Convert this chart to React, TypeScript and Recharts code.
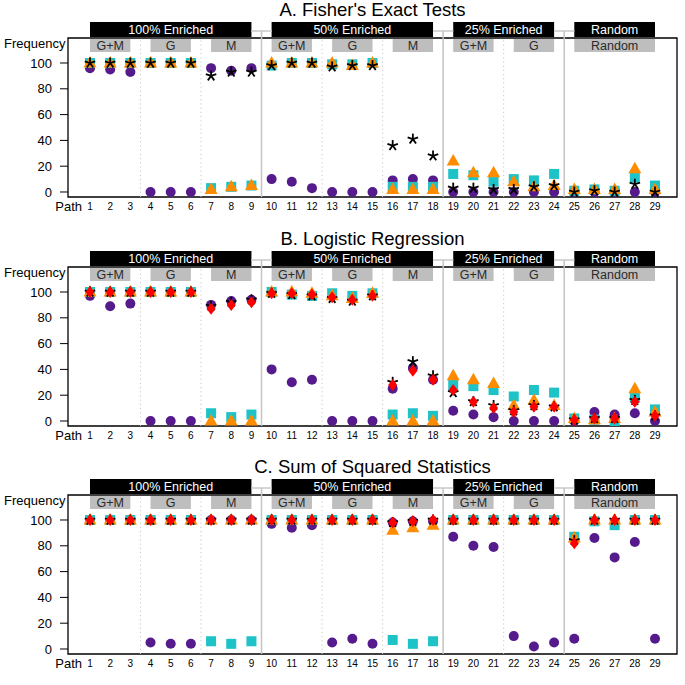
import { ScatterChart, Scatter, XAxis, YAxis, ReferenceArea, ReferenceLine } from "recharts";

const FONT = '"Liberation Sans", Arial, Helvetica, sans-serif';

const paths = [1, 2, 3, 4, 5, 6, 7, 8, 9, 10, 11, 12, 13, 14, 15, 16, 17, 18, 19, 20, 21, 22, 23, 24, 25, 26, 27, 28, 29];
const yTicks = [0, 20, 40, 60, 80, 100];

// header strips
const enrichLabels = ["100% Enriched", "50% Enriched", "25% Enriched", "Random"];
const enrichFirst = [1, 10, 19, 25];
const enrichLast = [9, 18, 24, 29];
const groupLabels = ["G+M", "G", "M", "G+M", "G", "M", "G+M", "G", "Random"];
const groupFirst = [1, 4, 7, 10, 13, 16, 19, 22, 25];
const groupLast = [3, 6, 9, 12, 15, 18, 21, 24, 29];

// A. Fisher's exact tests
const fisherCircle = [96, 95, 93, 0, 0, 0, 96, 94, 96, 10, 8, 3, 0, 0, 0, 9, 10, 9, 0, 0, 0, 0, 0, 0, 0, 0, 0, 0, 0];
const fisherSquare = [100, 100, 100, 100, 100, 100, 3, 4, 5, 98, 100, 100, 99, 99, 100, 4, 4, 4, 14, 13, 8, 10, 9, 14, 1, 2, 1, 11, 5];
const fisherTriangle = [100, 100, 100, 100, 100, 100, 2, 4, 5, 100, 100, 100, 100, 98, 100, 2, 2, 2, 24, 15, 15, 8, 4, 5, 2, 2, 2, 18, 2];
const fisherStar = [100, 100, 100, 100, 100, 100, 90, 93, 93, 98, 100, 100, 97, 98, 98, 36, 41, 28, 3, 3, 2, 2, 4, 5, 0, 1, 0, 6, 0];

// B. Logistic regression
const logitCircle = [97, 89, 91, 0, 0, 0, 90, 93, 94, 40, 30, 32, 0, 0, 0, 25, 41, 32, 8, 5, 3, 0, 0, 0, 0, 7, 5, 6, 0];
const logitSquare = [100, 100, 100, 100, 100, 100, 6, 3, 5, 100, 98, 97, 99, 97, 99, 5, 6, 4, 28, 27, 24, 19, 24, 22, 2, 1, 0, 18, 9];
const logitTriangle = [100, 100, 100, 100, 100, 100, 0, 0, 0, 100, 100, 99, 97, 95, 99, 0, 0, 0, 35, 32, 29, 12, 16, 12, 2, 1, 2, 25, 7];
const logitStar = [100, 100, 100, 100, 100, 100, 89, 92, 94, 99, 98, 97, 95, 93, 97, 30, 46, 35, 22, 15, 12, 8, 12, 11, 1, 2, 2, 16, 4];
const logitDiamond = [100, 100, 100, 100, 100, 100, 87, 90, 92, 99, 99, 98, 96, 94, 97, 28, 39, 32, 24, 15, 10, 7, 11, 11, 1, 2, 2, 15, 4];

// C. Sum of squared statistics
const sssCircle = [100, 100, 100, 5, 4, 4, 100, 100, 100, 97, 94, 96, 5, 8, 4, 98, 99, 99, 87, 80, 79, 10, 2, 5, 8, 86, 71, 83, 8];
const sssSquare = [100, 100, 100, 100, 100, 100, 6, 4, 6, 100, 100, 100, 100, 100, 100, 7, 4, 6, 100, 100, 100, 100, 100, 100, 87, 99, 96, 100, 100];
const sssTriangle = [100, 100, 100, 100, 100, 100, 100, 100, 100, 100, 100, 100, 100, 100, 100, 92, 94, 96, 100, 100, 100, 100, 100, 100, 86, 100, 100, 100, 100];
const sssStar = [100, 100, 100, 100, 100, 100, 100, 100, 100, 100, 100, 100, 100, 100, 100, 98, 99, 100, 100, 100, 100, 100, 100, 100, 84, 100, 100, 100, 100];
const sssDiamond = [100, 100, 100, 100, 100, 100, 100, 100, 100, 100, 100, 100, 100, 100, 100, 98, 99, 100, 100, 100, 100, 100, 100, 100, 82, 100, 100, 100, 100];

const PURPLE = "#551A8B";
const CYAN = "#1EC3C8";
const ORANGE = "#FF8C00";
const RED = "#FF0000";

const X_DOMAIN = [-0.09, 30.09];
const Y_DOMAIN = [-3.88, 119.38];
const STRIP_LINE = 124.8;

const Dot = (p: any) => <circle cx={p.cx} cy={p.cy} r={5} fill={PURPLE} />;
const Square = (p: any) => <rect x={p.cx - 5} y={p.cy - 5} width={10} height={10} fill={CYAN} />;
const Triangle = (p: any) => (
  <polygon points={`${p.cx},${p.cy - 7} ${p.cx - 6.5},${p.cy + 4.5} ${p.cx + 6.5},${p.cy + 4.5}`} fill={ORANGE} />
);
const Diamond = (p: any) => (
  <polygon points={`${p.cx},${p.cy - 6} ${p.cx + 4.5},${p.cy} ${p.cx},${p.cy + 6} ${p.cx - 4.5},${p.cy}`} fill={RED} />
);
const Star = (p: any) => {
  const arms = [0, 1, 2, 3, 4].map((k) => {
    const a = ((-90 + k * 72) * Math.PI) / 180;
    return (
      <line key={k} x1={p.cx} y1={p.cy} x2={p.cx + 5.5 * Math.cos(a)} y2={p.cy + 5.5 * Math.sin(a)} stroke="#000" strokeWidth={1.8} />
    );
  });
  return <g>{arms}</g>;
};

const toData = (vals: number[]) => paths.map((p, i) => ({ path: p, v: vals[i] }));

interface Series {
  vals: number[];
  shape: any;
}

const Panel = ({ title, top, series }: { title: string; top: number; series: Series[] }) => {
  return (
    <div style={{ position: "absolute", left: 0, top, width: 685, height: 228 }}>
      <ScatterChart width={685} height={228} margin={{ top: 38, right: 8, bottom: 1, left: 8 }}>
        <XAxis
          type="number"
          dataKey="path"
          domain={X_DOMAIN}
          ticks={paths}
          interval={0}
          allowDataOverflow
          axisLine={false}
          tickLine={false}
          tickSize={4}
          tickMargin={2}
          height={30}
          tick={{ fontSize: 10, fill: "#000", fontFamily: FONT }}
        />
        <YAxis
          type="number"
          dataKey="v"
          domain={Y_DOMAIN}
          ticks={yTicks}
          allowDataOverflow
          axisLine={false}
          tickLine={{ stroke: "#000" }}
          tickSize={8}
          tickMargin={8}
          width={60}
          tick={{ fontSize: 13, fill: "#000", fontFamily: FONT }}
        />
        {/* thin grey rule joining the strips, only in the gaps */}
        {enrichLast.slice(0, 3).map((e, i) => (
          <ReferenceLine
            key={"h" + e}
            segment={[{ x: e, y: STRIP_LINE }, { x: enrichFirst[i + 1], y: STRIP_LINE }]}
            stroke="#D6D6D6"
            strokeWidth={2}
            ifOverflow="visible"
          />
        ))}
        {enrichLast.slice(0, 3).map((e) => (
          <ReferenceLine
            key={"s" + e}
            segment={[{ x: e + 0.5, y: STRIP_LINE }, { x: e + 0.5, y: Y_DOMAIN[0] }]}
            stroke="#C4C4C4"
            strokeWidth={1.5}
            ifOverflow="visible"
          />
        ))}
        {groupLast
          .filter((g) => !enrichLast.includes(g))
          .map((g) => (
            <ReferenceLine key={"d" + g} x={g + 0.5} stroke="#C8C8C8" strokeDasharray="1.2 3" strokeWidth={1} />
          ))}
        {enrichLabels.map((lab, i) => (
          <ReferenceArea
            key={lab}
            x1={enrichFirst[i]}
            x2={enrichLast[i]}
            y1={120.2}
            y2={131.8}
            fill="#000"
            fillOpacity={1}
            stroke="none"
            ifOverflow="visible"
            label={{ value: lab, position: "center", fill: "#fff", fontSize: 12.5, fontFamily: FONT }}
          />
        ))}
        {groupLabels.map((lab, i) => (
          <ReferenceArea
            key={lab + i}
            x1={groupFirst[i]}
            x2={groupLast[i]}
            y1={108.5}
            y2={118.6}
            fill="#BEBEBE"
            fillOpacity={1}
            stroke="none"
            ifOverflow="visible"
            label={{ value: lab, position: "center", fill: "#2a2a2a", fontSize: 12.5, fontFamily: FONT }}
          />
        ))}
        <ReferenceArea
          x1={X_DOMAIN[0]}
          x2={X_DOMAIN[1]}
          y1={Y_DOMAIN[0]}
          y2={Y_DOMAIN[1]}
          fill="none"
          stroke="#000"
          strokeWidth={1.3}
          ifOverflow="visible"
        />
        {series.map((s, i) => (
          <Scatter key={i} data={toData(s.vals)} shape={s.shape} isAnimationActive={false} />
        ))}
      </ScatterChart>
      <div
        style={{
          position: "absolute",
          left: 68,
          width: 609,
          top: -1,
          textAlign: "center",
          fontFamily: FONT,
          fontSize: 18.5,
          lineHeight: "22px",
          color: "#000",
        }}
      >
        {title}
      </div>
      <div style={{ position: "absolute", left: 4, top: 36, fontFamily: FONT, fontSize: 13, lineHeight: "16px" }}>
        Frequency
      </div>
      <div
        style={{
          position: "absolute",
          left: 20,
          width: 62,
          top: 199,
          textAlign: "right",
          fontFamily: FONT,
          fontSize: 13,
          lineHeight: "16px",
        }}
      >
        Path
      </div>
    </div>
  );
};

const App = () => {
  return (
    <div style={{ position: "absolute", left: 0, top: 0, width: 685, height: 685, background: "#fff" }}>
      <Panel
        title="A. Fisher's Exact Tests"
        top={0}
        series={[
          { vals: fisherCircle, shape: Dot },
          { vals: fisherSquare, shape: Square },
          { vals: fisherTriangle, shape: Triangle },
          { vals: fisherStar, shape: Star },
        ]}
      />
      <Panel
        title="B. Logistic Regression"
        top={229}
        series={[
          { vals: logitCircle, shape: Dot },
          { vals: logitSquare, shape: Square },
          { vals: logitTriangle, shape: Triangle },
          { vals: logitStar, shape: Star },
          { vals: logitDiamond, shape: Diamond },
        ]}
      />
      <Panel
        title="C. Sum of Squared Statistics"
        top={457}
        series={[
          { vals: sssCircle, shape: Dot },
          { vals: sssSquare, shape: Square },
          { vals: sssTriangle, shape: Triangle },
          { vals: sssStar, shape: Star },
          { vals: sssDiamond, shape: Diamond },
        ]}
      />
    </div>
  );
};

export default App;
